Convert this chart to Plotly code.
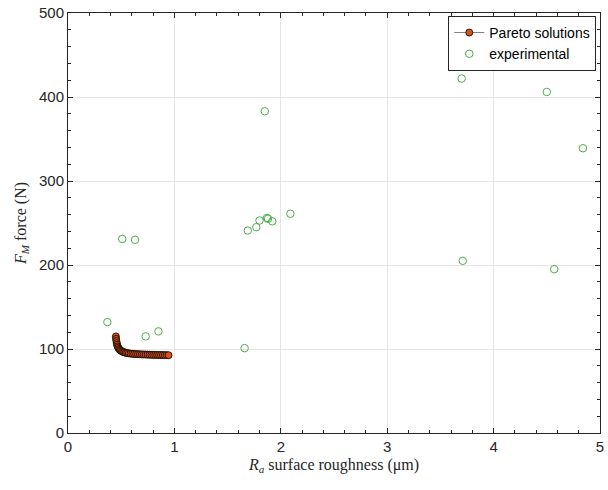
import plotly.graph_objects as go

# Pareto front of the optimisation (Ra in µm, FM in N)
pareto_ra = [0.45, 0.452, 0.455, 0.458, 0.462, 0.467, 0.473, 0.48, 0.488, 0.497,
             0.507, 0.518, 0.53, 0.543, 0.557, 0.572, 0.588, 0.605, 0.622, 0.64,
             0.658, 0.676, 0.694, 0.712, 0.73, 0.748, 0.766, 0.784, 0.802, 0.82,
             0.838, 0.856, 0.874, 0.892, 0.91, 0.928, 0.945]
pareto_fm = [115, 112, 109.5, 107, 105, 103, 101.5, 100, 99, 98,
             97.2, 96.6, 96, 95.5, 95.1, 94.8, 94.5, 94.3, 94.1, 93.9,
             93.8, 93.7, 93.6, 93.5, 93.4, 93.3, 93.2, 93.1, 93.0, 93.0,
             92.9, 92.9, 92.8, 92.8, 92.7, 92.7, 92.6]

# Experimental runs
exp_ra = [0.37, 0.51, 0.63, 0.73, 0.85, 1.66, 1.85, 1.69, 1.77, 1.80,
          1.87, 1.88, 1.92, 2.09, 3.70, 3.71, 4.50, 4.57, 4.84]
exp_fm = [132, 231, 230, 115, 121, 101, 383, 241, 245, 253,
          256, 255, 252, 261, 422, 205, 406, 195, 339]

x_ticks = [0, 1, 2, 3, 4, 5]
y_ticks = [0, 100, 200, 300, 400, 500]

fig = go.Figure()
fig.add_trace(go.Scatter(
    x=pareto_ra, y=pareto_fm, mode="lines+markers", name="Pareto solutions",
    line=dict(color="#7f7f7f", width=1),
    marker=dict(size=7, color="#D95319", line=dict(color="#000000", width=0.8)),
))
fig.add_trace(go.Scatter(
    x=exp_ra, y=exp_fm, mode="markers", name="experimental",
    marker=dict(size=7.5, symbol="circle-open", color="#4DAF4A",
                line=dict(width=1)),
))

axis_common = dict(
    showline=True, linecolor="#262626", linewidth=1, mirror="ticks",
    ticks="inside", ticklen=5, tickcolor="#262626",
    showgrid=True, gridcolor="#e6e6e6", gridwidth=1, zeroline=False,
    tickfont=dict(family="Liberation Sans, Arial", size=15, color="#262626"),
    ticklabeloverflow="allow",
)

fig.update_layout(
    width=608, height=490,
    margin=dict(l=68, r=4, t=12, b=57),
    paper_bgcolor="white", plot_bgcolor="white",
    xaxis=dict(range=[0, 5], tickvals=x_ticks, **axis_common,
               minor=dict(ticks="inside", ticklen=3, tickcolor="#262626",
                          dtick=0.2, showgrid=False),
               title=dict(text="<i>R</i><sub><i>a</i></sub> surface roughness (μm)",
                          font=dict(family="Liberation Serif, Times New Roman", size=16, color="#262626"),
                          standoff=4)),
    yaxis=dict(range=[0, 500], tickvals=y_ticks, **axis_common,
               minor=dict(ticks="inside", ticklen=3, tickcolor="#262626",
                          dtick=20, showgrid=False),
               title=dict(text="<i>F</i><sub><i>M</i></sub> force (N)",
                          font=dict(family="Liberation Serif, Times New Roman", size=16, color="#262626"),
                          standoff=8)),
    legend=dict(x=0.993, y=0.993, xanchor="right", yanchor="top",
                bgcolor="white", bordercolor="#262626", borderwidth=1,
                font=dict(family="Liberation Sans, Arial", size=14, color="#000000"),
                tracegroupgap=0, itemwidth=30),
    showlegend=True,
)

fig.write_html("out.html")
